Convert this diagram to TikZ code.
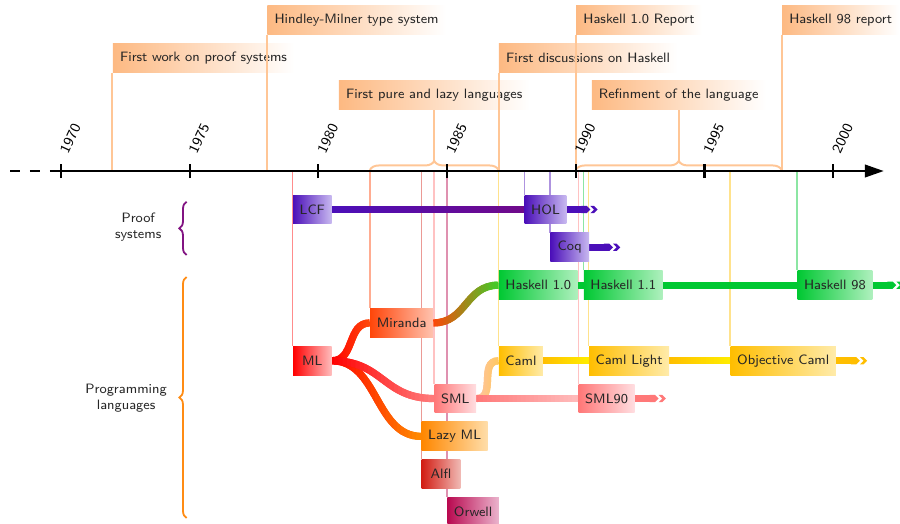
\documentclass[tikz,border=0pt]{standalone}
\usepackage{xcolor}
\usepackage{tikz}
\usetikzlibrary{arrows.meta,positioning,calc,backgrounds,decorations.pathreplacing}

% colours of the families
\definecolor{prfA}{RGB}{75,15,185}
\definecolor{prfB}{RGB}{200,185,240}
\definecolor{prfC}{RGB}{110,10,140}
\definecolor{mlA}{RGB}{255,0,0}
\definecolor{mlB}{RGB}{255,190,190}
\definecolor{mirA}{RGB}{255,70,10}
\definecolor{mirB}{RGB}{255,195,175}
\definecolor{smlA}{RGB}{255,120,120}
\definecolor{smlB}{RGB}{255,222,225}
\definecolor{smlC}{RGB}{255,185,185}
\definecolor{lmlA}{RGB}{255,135,0}
\definecolor{lmlB}{RGB}{255,222,170}
\definecolor{alfA}{RGB}{210,30,20}
\definecolor{alfB}{RGB}{240,185,180}
\definecolor{orwA}{RGB}{185,10,80}
\definecolor{orwB}{RGB}{235,180,205}
\definecolor{camA}{RGB}{255,190,0}
\definecolor{camB}{RGB}{255,235,170}
\definecolor{camC}{RGB}{255,235,0}
\definecolor{hskA}{RGB}{0,200,50}
\definecolor{hskB}{RGB}{175,240,190}
\definecolor{hskC}{RGB}{70,200,40}
\definecolor{peachA}{RGB}{255,195,165}
\definecolor{peachB}{RGB}{255,200,100}
\definecolor{evtA}{RGB}{253,185,130}
\definecolor{evtL}{RGB}{255,198,150}
\definecolor{braceP}{RGB}{130,20,130}
\definecolor{braceO}{RGB}{255,140,20}

\newcommand{\figfont}{\fontsize{7.5}{9}\selectfont\sffamily}

\tikzset{
  langbox/.style={left color=#1A, right color=#1B, minimum height=0.56cm, minimum width=0.75cm,
    inner xsep=3.6pt, inner ysep=0pt, font=\figfont, text=black!85, anchor=west},
  evtbox/.style={left color=evtA, right color=white, minimum height=0.57cm, inner xsep=4pt,
    inner ysep=0pt, font=\figfont, text=black!85},
  evtline/.style={draw=evtL, line width=1.1pt},
  evtbrace/.style={draw=evtL, line width=1.1pt, decorate, decoration={brace, amplitude=5pt}},
  sidebrace/.style={draw=#1, line width=1pt, decorate, decoration={brace, amplitude=4pt}},
  drop/.style={line width=0.9pt, draw=#1!45},
  flowline/.style={line width=4pt},
  flowend/.style={line width=4pt, draw=#1, -{Triangle Cap[].Fast Triangle[]}},
  yearlbl/.style={rotate=65, anchor=south west, inner sep=1pt, font=\footnotesize\sffamily},
}

% thick connector whose colour goes from #1 to #2
\newcommand{\flow}[5]{%
  \foreach \k in {0,...,23}{%
    \pgfmathtruncatemacro{\mix}{100-\k*100/23}%
    \begin{scope}
      \clip ($(#3)!{(\k-0.5)/24}!(#4)+(0,-4)$) rectangle ($(#3)!{(\k+1.5)/24}!(#4)+(0,4)$);
      \draw[flowline, draw=#1!\mix!#2] (#3) #5 (#4);
    \end{scope}}}

\begin{document}
\begin{tikzpicture}[x=0.5cm, y=1cm]
\useasboundingbox (-2.37,-6.838) rectangle (32.596,3.322);
\coordinate (axis) at (0,0);

% events above the axis
\node[evtbox, anchor=south west] (proofwork) at (2,1.904) {First work on proof systems};
\node[evtbox, anchor=south west] (hm) at (8,2.642) {Hindley-Milner type system};
\node[evtbox, anchor=south] (lazy) at (14.5,1.185) {First pure and lazy languages};
\node[evtbox, anchor=south west] (hdisc) at (17,1.904) {First discussions on Haskell};
\node[evtbox, anchor=south west] (h10rep) at (20,2.642) {Haskell 1.0 Report};
\node[evtbox, anchor=south] (refine) at (24,1.185) {Refinment of the language};
\node[evtbox, anchor=south west] (h98rep) at (28,2.642) {Haskell 98 report};
\coordinate (lazytip) at (14.5,0.19);
\coordinate (refinetip) at (24,0.19);
\draw[evtline] (proofwork.south west) -- (proofwork.south west |- axis);
\draw[evtline] (hm.south west) -- (hm.south west |- axis);
\draw[evtline] (hdisc.south west) -- (hdisc.south west |- axis);
\draw[evtline] (h10rep.south west) -- (h10rep.south west |- axis);
\draw[evtline] (h98rep.south west) -- (h98rep.south west |- axis);
\draw[evtline] (lazy.south) -- (lazytip);
\draw[evtline] (refine.south) -- (refinetip);
\draw[evtbrace] (12,0.02) -- (17,0.02);
\draw[evtbrace] (20,0.02) -- (28,0.02);

% time axis
\draw[line width=1.6pt, dash pattern=on 5.5pt off 5.5pt] (-1.98,0) -- (axis);
\draw[line width=1.6pt, -{Triangle[length=3.7mm, width=2.4mm]}] (axis) -- (31.97,0);
\foreach \y in {0,5,...,30}{
  \draw[line width=1.2pt] (\y,-0.14) -- (\y,0.14);
  \pgfmathtruncatemacro\yy{1970+\y}
  \node[yearlbl] (yr\yy) at (\y+0.33,0.27) {\yy};
}

% proof systems
\node[langbox=prf] (lcf) at (9,-0.748) {LCF};
\node[langbox=prf] (hol) at (18,-0.748) {HOL};
\node[langbox=prf] (coq) at (19,-1.482) {Coq};
% programming languages
\node[langbox=hsk] (h10) at (17,-2.217) {Haskell 1.0};
\node[langbox=hsk] (h11) at (20.3,-2.217) {Haskell 1.1};
\node[langbox=hsk] (h98) at (28.6,-2.217) {Haskell 98};
\node[langbox=mir] (mir) at (12,-2.951) {Miranda};
\node[langbox=ml] (ml) at (9,-3.686) {ML};
\node[langbox=cam] (caml) at (17,-3.686) {Caml};
\node[langbox=cam] (caml1) at (20.5,-3.686) {Caml Light};
\node[langbox=cam] (ocaml) at (26,-3.686) {Objective Caml};
\node[langbox=sml] (sml) at (14.5,-4.420) {SML};
\node[langbox=sml] (sml90) at (20.1,-4.420) {SML90};
\node[langbox=lml] (lml) at (14,-5.155) {Lazy ML};
\node[langbox=alf] (alfl) at (14,-5.889) {Alfl};
\node[langbox=orw] (orwell) at (15,-6.624) {Orwell};

\coordinate[right=0.6cm of hol] (holend);
\coordinate[right=0.6cm of coq] (coqend);
\coordinate[right=0.6cm of h98] (h98end);
\coordinate[right=0.6cm of ocaml] (ocamlend);
\coordinate[right=0.6cm of sml90] (sml90end);

\begin{scope}[on background layer]
  \foreach \n/\c in {lcf/prfA, hol/prfA, coq/prfA, h10/hskA, h11/hskA, h98/hskA, mir/mirA, ml/mlA,
      caml/camA, caml1/camA, ocaml/camA, sml/smlA, sml90/smlA, lml/lmlA, alfl/alfA, orwell/orwA}
    \draw[drop=\c] (\n.north west |- axis) -- (\n.north west);
  \flow{prfA}{prfC}{lcf.east}{hol.west}{--}
  \flow{mlA}{mirA}{ml.east}{mir.west}{.. controls +(0.9,0) and +(-0.9,0) ..}
  \flow{mirA}{hskC}{mir.east}{h10.west}{.. controls +(1.3,0) and +(-1.3,0) ..}
  \flow{mlA}{lmlA}{ml.east}{lml.west}{.. controls +(1.8,0) and +(-1.8,0) ..}
  \flow{mlA}{smlA}{ml.east}{sml.west}{.. controls +(2,0) and +(-2,0) ..}
  \flow{peachA}{peachB}{sml.east}{caml.west}{.. controls +(0.8,0) and +(-0.8,0) ..}
  \flow{smlA}{smlC}{sml.east}{sml90.west}{--}
  \flow{camA}{camC}{caml.east}{caml1.west}{--}
  \flow{camA}{camC}{caml1.east}{ocaml.west}{--}
  \draw[flowline, draw=hskA] (h10.east) -- (h11.west);
  \draw[flowline, draw=hskA] (h11.east) -- (h98.west);
  \draw[flowend=prfA] (hol.east) -- (holend);
  \draw[flowend=prfA] (coq.east) -- (coqend);
  \draw[flowend=hskA] (h98.east) -- (h98end);
  \draw[flowend=camA] (ocaml.east) -- (ocamlend);
  \draw[flowend=smlA] (sml90.east) -- (sml90end);
\end{scope}

% groups on the left
\draw[sidebrace=braceP] (4.88,-1.632) -- (4.88,-0.596);
\draw[sidebrace=braceO] (4.88,-6.74) -- (4.88,-2.059);
\node[font=\figfont, align=center, text=black!85] (prooflbl) at (3.0,-1.088) {Proof\\systems};
\node[font=\figfont, align=center, text=black!85] (proglbl) at (2.53,-4.41) {Programming\\languages};
\end{tikzpicture}
\end{document}
